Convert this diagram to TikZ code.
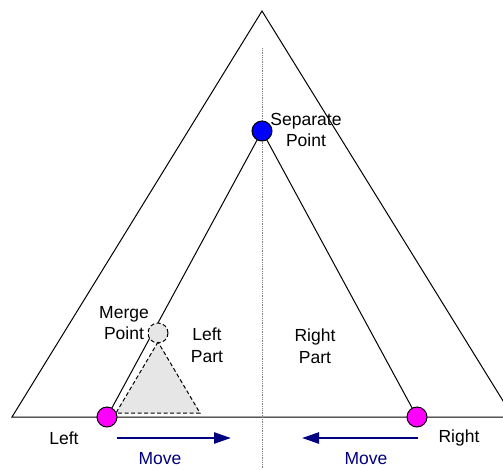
\documentclass[tikz,border=0pt]{standalone}
\usepackage{fontspec}
\setmainfont{Liberation Sans}
\usetikzlibrary{arrows.meta}
\definecolor{navyblue}{HTML}{000080}
\definecolor{mag}{HTML}{FF00FF}
\definecolor{lightfill}{HTML}{E6E6E6}
\pgfdeclarelayer{bg}
\pgfsetlayers{bg,main}
\begin{document}
\begin{tikzpicture}[x=1pt,y=-1pt,
  thinline/.style={line width=1pt},
  lbl/.style={font=\fontsize{17.5}{21.5}\selectfont, align=center, inner sep=0pt},
  ball/.style={circle, draw, line width=1pt, minimum size=20pt, inner sep=0pt},
  mvarrow/.style={draw=navyblue, line width=2.5pt, -{Triangle[length=17pt,width=11pt]}},
  mvtext/.style={lbl, text=navyblue},
]
\useasboundingbox (0,0) rectangle (503,469);
\coordinate (apex) at (262,11);
\coordinate (bl) at (12,417);
\coordinate (br) at (513,417);
\coordinate (vtop) at (262,48);
\coordinate (vbot) at (262,469);
% outer triangle (clipped at the right edge)
\begin{scope}
  \clip (0,0) rectangle (503,469);
  \draw[thinline] (bl) -- (apex) -- (br) -- cycle;
\end{scope}
% dotted axis
\draw[gray, line width=0.9pt, dash pattern=on 0.9pt off 0.9pt] (vtop) -- (vbot);
% points
\node[ball, fill=blue] (sep) at (262,131) {};
\node[ball, fill=mag] (lp) at (107,417) {};
\node[ball, fill=mag] (rp) at (417,417) {};
\node[ball, fill=lightfill, dash pattern=on 4pt off 2.5pt] (merge) at (158,333) {};
\begin{pgfonlayer}{bg}
  \draw[thinline] (sep.center) -- (lp.center);
  \draw[thinline] (sep.center) -- (rp.center);
\end{pgfonlayer}
% merged sub-triangle
\coordinate (ta) at (158,342);
\coordinate (tl) at (116,413);
\coordinate (tr) at (200,413);
\draw[thinline, dash pattern=on 4pt off 2.5pt, fill=lightfill] (ta) -- (tl) -- (tr) -- cycle;
% labels
\node[lbl] (seplbl) at (306,130) {Separate\\Point};
\node[lbl] (mergelbl) at (124,323) {Merge\\Point};
\node[lbl] (leftpart) at (207,345) {Left\\Part};
\node[lbl] (rightpart) at (315,346) {Right\\Part};
\node[lbl] (leftlbl) at (64,438) {Left};
\node[lbl] (rightlbl) at (459,438) {Right};
% move arrows
\coordinate (m1s) at (117,438);
\coordinate (m1e) at (231,438);
\coordinate (m2s) at (418,438);
\coordinate (m2e) at (302,438);
\draw[mvarrow] (m1s) -- (m1e);
\draw[mvarrow] (m2s) -- (m2e);
\node[mvtext] (mv1) at (160,459) {Move};
\node[mvtext] (mv2) at (366,459) {Move};
\end{tikzpicture}
\end{document}
